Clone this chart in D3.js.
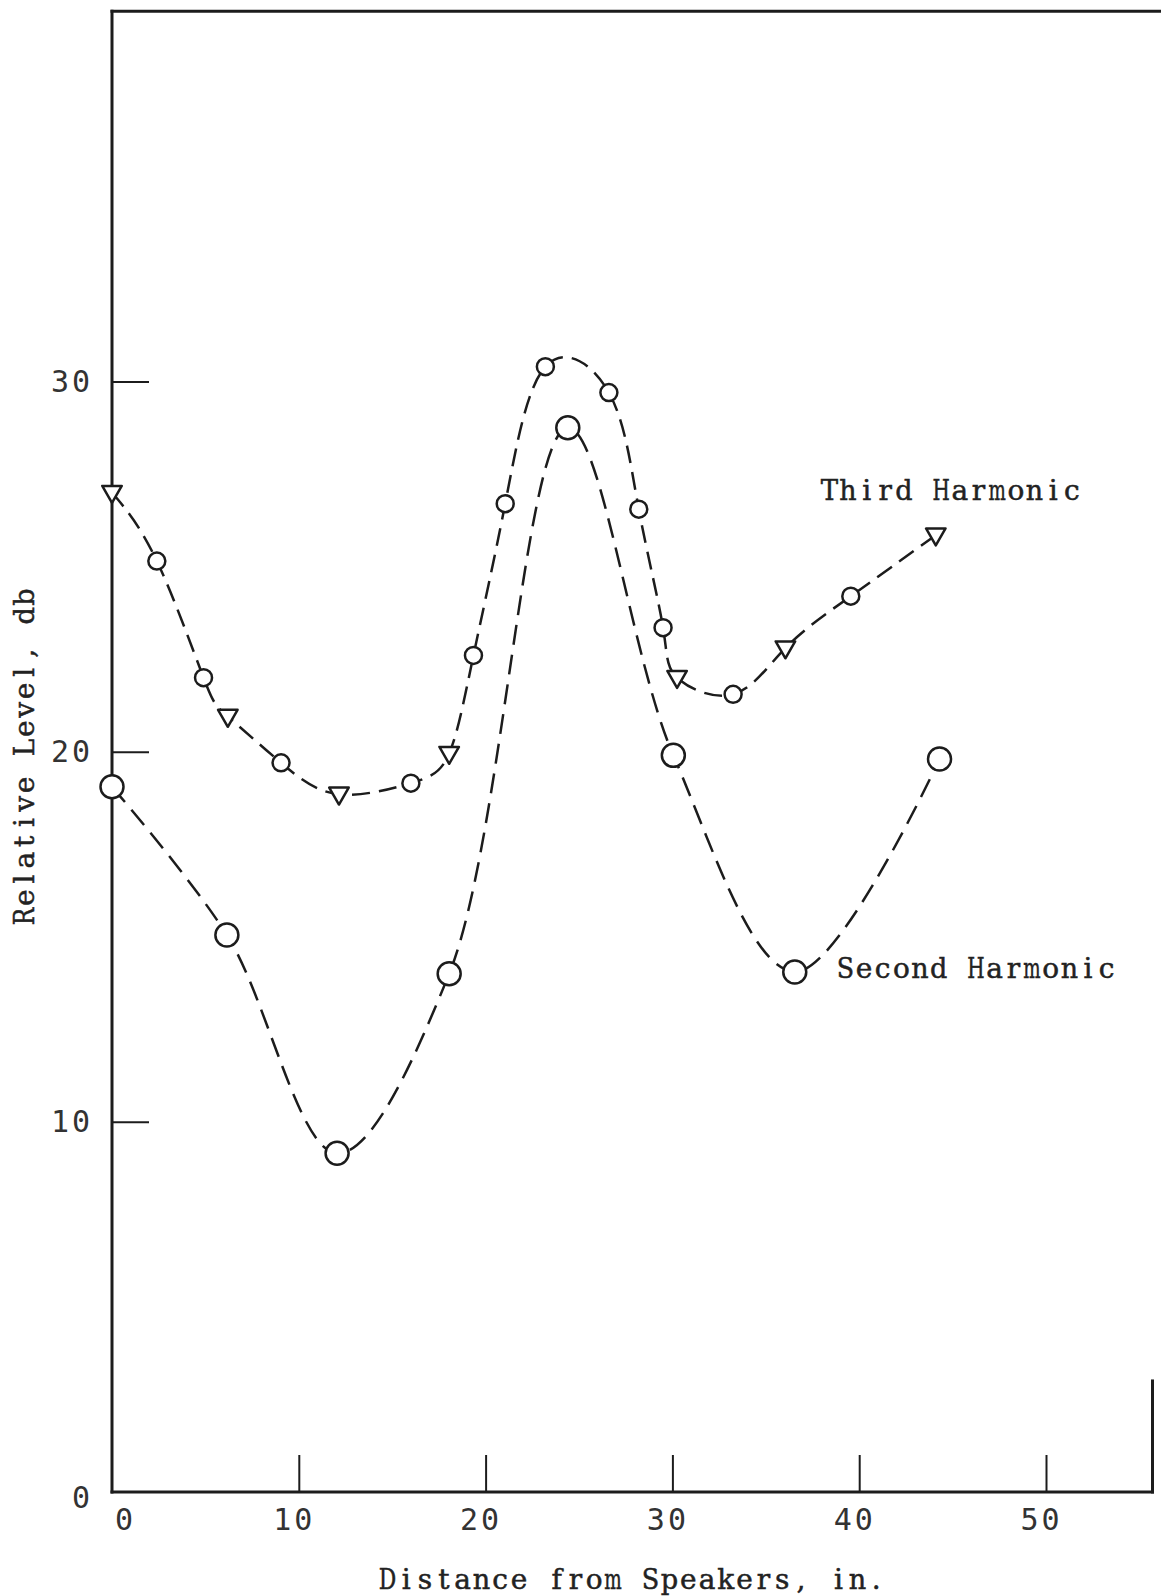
<!DOCTYPE html>
<html>
<head>
<meta charset="utf-8">
<script src="https://cdn.jsdelivr.net/npm/d3@7/dist/d3.min.js"></script>
<style>
  html, body { margin: 0; padding: 0; background: #ffffff; }
  svg { display: block; }
</style>
</head>
<body>
<script>
// ---------------- data ----------------
const xTicks = [0, 10, 20, 30, 40, 50];
const yTicks = [0, 10, 20, 30];

// Third harmonic (small circles / triangles)
const thirdX = [0, 2.4, 4.9, 6.2, 9.05, 12.15, 16.0, 18.05, 19.35, 21.05, 23.2, 26.6, 28.2, 29.5, 30.25, 33.25, 36.05, 39.55, 44.1];
const thirdY = [27.0, 25.15, 22.0, 20.95, 19.7, 18.85, 19.15, 19.95, 22.6, 26.7, 30.4, 29.7, 26.55, 23.35, 22.0, 21.55, 22.8, 24.2, 25.85];
const thirdMarker = ["tri","circle","circle","tri","circle","tri","circle","tri","circle","circle","circle","circle","circle","circle","tri","circle","tri","circle","tri"];

// Second harmonic (large circles)
const secondX = [0, 6.15, 12.05, 18.05, 24.4, 30.05, 36.55, 44.3];
const secondY = [19.05, 15.05, 9.15, 14.0, 28.75, 19.9, 14.05, 19.8];

const labelThird = "Third Harmonic";
const labelSecond = "Second Harmonic";
const xTitle = "Distance from Speakers, in.";
const yTitle = "Relative Level, db";

// ---------------- layout ----------------
const W = 1161, H = 1596;
const ink = "#1c1c1c";
const svg = d3.select("body").append("svg").attr("width", W).attr("height", H);
svg.append("rect").attr("width", W).attr("height", H).attr("fill", "#ffffff");

const x = d3.scaleLinear().domain([0, 50]).range([112, 1046]);
const y = d3.scaleLinear().domain([0, 30]).range([1492, 381.5]);

const typeFont = "'DejaVu Serif', 'Liberation Serif', serif";
const tickFont = "'DejaVu Sans Mono', monospace";

// ---------------- frame ----------------
const frame = svg.append("g").attr("stroke", ink).attr("stroke-width", 3).attr("fill", "none").attr("stroke-linecap", "square");
frame.append("line").attr("x1", x(0)).attr("x2", x(0)).attr("y1", y(40)).attr("y2", y(0));
frame.append("line").attr("x1", x(0)).attr("x2", W).attr("y1", y(40)).attr("y2", y(40));
frame.append("line").attr("x1", x(0)).attr("x2", x(55.7)).attr("y1", y(0)).attr("y2", y(0));
frame.append("line").attr("x1", x(55.7)).attr("x2", x(55.7)).attr("y1", y(3)).attr("y2", y(0));

// ---------------- axes ----------------
const yAxis = svg.append("g").attr("transform", `translate(${x(0)},0)`)
  .call(d3.axisLeft(y).tickValues(yTicks).tickSizeInner(-37).tickSizeOuter(0).tickPadding(19).tickFormat(d3.format("d")));
yAxis.select(".domain").remove();
yAxis.selectAll(".tick line").attr("stroke", ink).attr("stroke-width", 2).attr("opacity", d => d === 0 ? 0 : 1);
yAxis.selectAll(".tick text").attr("font-family", tickFont).attr("font-size", 30).attr("fill", "#333")
  .attr("letter-spacing", 3).attr("dy", d => d === 0 ? "0.52em" : "0.32em");

const xAxis = svg.append("g").attr("transform", `translate(0,${y(0)})`)
  .call(d3.axisBottom(x).tickValues(xTicks).tickSizeInner(-37).tickSizeOuter(0).tickPadding(17).tickFormat(d3.format("d")));
xAxis.select(".domain").remove();
xAxis.selectAll(".tick line").attr("stroke", ink).attr("stroke-width", 2).attr("opacity", d => d === 0 ? 0 : 1);
xAxis.selectAll(".tick text").attr("font-family", tickFont).attr("font-size", 30).attr("fill", "#333")
  .attr("letter-spacing", 3).attr("dx", d => d === 0 ? 13 : -5);

// ---------------- typewriter text helper (fixed pitch) ----------------
function typeText(parent, str, x0, y0, pitch, size) {
  const g = parent.append("g").attr("font-family", typeFont).attr("font-size", size)
    .attr("fill", "#222").attr("stroke", "#222").attr("stroke-width", 0.5);
  str.split("").forEach((ch, i) => {
    if (ch === " ") return;
    const t = g.append("text").attr("text-anchor", "middle").text(ch);
    const w = t.node().getComputedTextLength();
    const sx = Math.min(1, (pitch * 0.93) / Math.max(w, 1));
    t.attr("transform", `translate(${x0 + pitch * (i + 0.5)},${y0}) scale(${sx},1)`);
  });
  return g;
}

typeText(svg, labelThird, 820, 500, 18.65, 28);
typeText(svg, labelSecond, 836, 978, 18.67, 28);
typeText(svg, xTitle, 378, 1589, 18.8, 28);
const yt = svg.append("g").attr("transform", "translate(34,926) rotate(-90)");
typeText(yt, yTitle, 0, 0, 18.8, 28);

// ---------------- curves ----------------
const third = thirdX.map((v, i) => ({ x: v, y: thirdY[i], m: thirdMarker[i] }));
const second = secondX.map((v, i) => ({ x: v, y: secondY[i] }));

const line3 = d3.line().x(d => x(d.x)).y(d => y(d.y)).curve(d3.curveNatural);
const line2 = d3.line().x(d => x(d.x)).y(d => y(d.y)).curve(d3.curveCatmullRom.alpha(0.5));

svg.append("path").datum(third).attr("d", line3).attr("fill", "none")
  .attr("stroke", ink).attr("stroke-width", 2.5).attr("stroke-dasharray", "18,9");
svg.append("path").datum(second).attr("d", line2).attr("fill", "none")
  .attr("stroke", ink).attr("stroke-width", 2.5).attr("stroke-dasharray", "20,10");

// markers
const tri = d3.symbol().type(d3.symbolTriangle).size(165);
svg.append("g").selectAll("path.tri").data(third.filter(d => d.m === "tri")).join("path")
  .attr("d", tri).attr("transform", d => `translate(${x(d.x)},${y(d.y) - 1}) rotate(180)`)
  .attr("fill", "#fff").attr("stroke", ink).attr("stroke-width", 2.5).attr("stroke-linejoin", "round");
svg.append("g").selectAll("circle").data(third.filter(d => d.m === "circle")).join("circle")
  .attr("cx", d => x(d.x)).attr("cy", d => y(d.y)).attr("r", 8.5)
  .attr("fill", "#fff").attr("stroke", ink).attr("stroke-width", 2.5);
svg.append("g").selectAll("circle").data(second).join("circle")
  .attr("cx", d => x(d.x)).attr("cy", d => y(d.y)).attr("r", 11.5)
  .attr("fill", "#fff").attr("stroke", ink).attr("stroke-width", 2.5);
</script>
</body>
</html>
